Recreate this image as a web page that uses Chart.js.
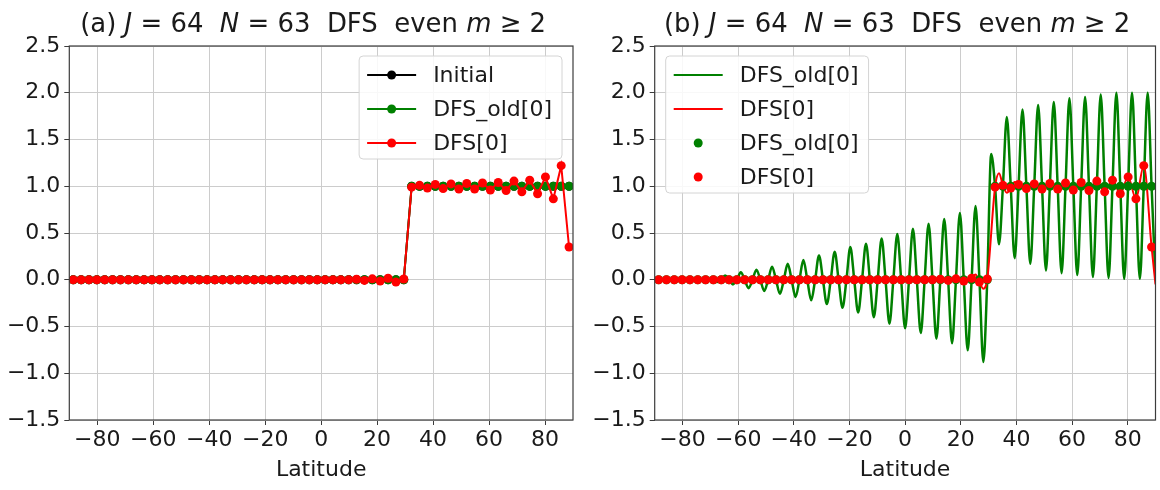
<!DOCTYPE html>
<html>
<head>
<meta charset="utf-8">
<script src="https://cdn.jsdelivr.net/npm/chart.js@4.4.1/dist/chart.umd.min.js"></script>
<style>
html, body { margin: 0; padding: 0; background: #fff; }
#wrap { position: relative; width: 1160px; height: 490px; }
.panel { position: absolute; top: 0; width: 580px; height: 490px; }
</style>
</head>
<body>
<div id="wrap">
  <div class="panel" style="left:0"><canvas id="chartA" width="580" height="490"></canvas></div>
  <div class="panel" style="left:580px"><canvas id="chartB" width="580" height="490"></canvas></div>
</div>
<script>
// grid latitudes, J = 64
var latitudes = [
  -88.59, -85.78, -82.97, -80.16, -77.34, -74.53, -71.72, -68.91,
  -66.09, -63.28, -60.47, -57.66, -54.84, -52.03, -49.22, -46.41,
  -43.59, -40.78, -37.97, -35.16, -32.34, -29.53, -26.72, -23.91,
  -21.09, -18.28, -15.47, -12.66, -9.84, -7.03, -4.22, -1.41,
  1.41, 4.22, 7.03, 9.84, 12.66, 15.47, 18.28, 21.09,
  23.91, 26.72, 29.53, 32.34, 35.16, 37.97, 40.78, 43.59,
  46.41, 49.22, 52.03, 54.84, 57.66, 60.47, 63.28, 66.09,
  68.91, 71.72, 74.53, 77.34, 80.16, 82.97, 85.78, 88.59
];
var initialField = [
  0, 0, 0, 0, 0, 0, 0, 0,
  0, 0, 0, 0, 0, 0, 0, 0,
  0, 0, 0, 0, 0, 0, 0, 0,
  0, 0, 0, 0, 0, 0, 0, 0,
  0, 0, 0, 0, 0, 0, 0, 0,
  0, 0, 0, 1, 1, 1, 1, 1,
  1, 1, 1, 1, 1, 1, 1, 1,
  1, 1, 1, 1, 1, 1, 1, 1
];
var dfsOld = [
  0, 0, 0, 0, 0, 0, 0, 0,
  0, 0, 0, 0, 0, 0, 0, 0,
  0, 0, 0, 0, 0, 0, 0, 0,
  0, 0, 0, 0, 0, 0, 0, 0,
  0, 0, 0, 0, 0, 0, 0, 0,
  0, 0, 0, 1, 1, 1, 1, 1,
  1, 1, 1, 1, 1, 1, 1, 1,
  1, 1, 1, 1, 1, 1, 1, 1
];
var dfsNew = [
  0, 0, 0, 0, 0, 0, 0, 0,
  0, 0, 0, 0, 0, 0, 0, 0,
  0, 0, 0, 0, 0, 0, 0, 0,
  0, 0, 0, 0, 0, 0, 0, 0,
  0, 0, 0, 0, 0.005, -0.007, 0.01, -0.014,
  0.016, -0.025, 0.008, 0.99, 1.01, 0.98, 1.02, 0.975,
  1.025, 0.97, 1.03, 0.97, 1.035, 0.96, 1.04, 0.955,
  1.055, 0.94, 1.065, 0.92, 1.10, 0.865, 1.22, 0.35
];

// DFS_old[0] between the grid points (b): peaks and troughs
var midLatitudes = [
  -87.19, -84.38, -81.56, -78.75, -75.94, -73.13, -70.31, -67.50,
  -64.69, -61.88, -59.06, -56.25, -53.44, -50.63, -47.81, -45.00,
  -42.19, -39.38, -36.56, -33.75, -30.94, -28.13, -25.31, -22.50,
  -19.69, -16.88, -14.06, -11.25, -8.44, -5.63, -2.81, 0.00,
  2.81, 5.63, 8.44, 11.25, 14.06, 16.88, 19.69, 22.50,
  25.31, 28.13, 30.94, 33.75, 36.56, 39.38, 42.19, 45.00,
  47.81, 50.63, 53.44, 56.25, 59.06, 61.88, 64.69, 67.50,
  70.31, 73.13, 75.94, 78.75, 81.56, 84.38, 87.19
];
var dfsOldMid = [
  0, 0, 0, 0, 0.003, -0.006, 0.012, -0.025,
  0.046, -0.05, 0.08, -0.09, 0.107, -0.12, 0.14, -0.15,
  0.17, -0.185, 0.21, -0.22, 0.26, -0.26, 0.30, -0.30,
  0.35, -0.35, 0.385, -0.40, 0.44, -0.47, 0.49, -0.52,
  0.545, -0.57, 0.60, -0.63, 0.65, -0.68, 0.715, -0.755,
  0.79, -0.88, 1.345, 0.38, 1.74, 0.23, 1.82, 0.17,
  1.87, 0.10, 1.90, 0.07, 1.94, 0.05, 1.955, 0.03,
  1.98, 0.02, 2.0, 0.01, 2.0, 0.01, 2.0
];
var edgeLatitudes = [-90, 90];
var dfsOldEdge = [0, 0];

// extra points of the DFS[0] curve in (b): wiggles near the jump and ends
var dfsNewExtraLat = [-90, 25.31, 28.13, 33.75, 36.56, 39.38, 90];
var dfsNewExtra = [0, 0.057, -0.096, 1.14, 0.93, 1.046, -0.05];

var xTicks = [-80, -60, -40, -20, 0, 20, 40, 60, 80];
var yTicks = [-1.5, -1.0, -0.5, 0.0, 0.5, 1.0, 1.5, 2.0, 2.5];

var FONT = 'DejaVu Sans';
var GREEN = '#008000';
var RED = '#ff0000';

function pts(xs, ys) {
    return xs.map(function (x, i) { return { x: x, y: ys[i] }; });
}
function joined() {
    var out = [];
    for (var i = 0; i < arguments.length; i += 2) out = out.concat(pts(arguments[i], arguments[i + 1]));
    return out.sort(function (a, b) { return a.x - b.x; });
}
function minus(s) { return String(s).replace('-', '\u2212'); }

// frame, title and matplotlib-like legend
var decor = {
    id: 'decor',
    afterDraw: function (chart, args, opts) {
        var ctx = chart.ctx, a = chart.chartArea;
        ctx.save();
        ctx.strokeStyle = '#3c3c3c';
        ctx.lineWidth = 1.2;
        ctx.strokeRect(a.left, a.top, a.right - a.left, a.bottom - a.top);

        // title, with italic symbols, slightly condensed like the original
        var size = 27, squeeze = 0.96;
        var total = 0;
        opts.title.forEach(function (seg) {
            ctx.font = (seg[1] ? 'italic ' : '') + size + 'px "' + FONT + '"';
            total += ctx.measureText(seg[0]).width;
        });
        var cx = (a.left + a.right) / 2 - 8;
        ctx.save();
        ctx.translate(cx - total * squeeze / 2, 32);
        ctx.scale(squeeze, 1);
        var tx = 0;
        ctx.fillStyle = '#1a1a1a';
        ctx.textBaseline = 'alphabetic';
        ctx.textAlign = 'left';
        opts.title.forEach(function (seg) {
            ctx.font = (seg[1] ? 'italic ' : '') + size + 'px "' + FONT + '"';
            ctx.fillText(seg[0], tx, 0);
            tx += ctx.measureText(seg[0]).width;
        });
        ctx.restore();

        // legend
        var items = opts.legend.items;
        ctx.font = '22px "' + FONT + '"';
        var textW = Math.max.apply(null, items.map(function (it) { return ctx.measureText(it.label).width; }));
        var w = 74 + textW + 10;
        var h = 19 + (items.length - 1) * 34 + 16;
        var bx = opts.legend.side === 'right' ? a.right - 11 - w : a.left + 11;
        var by = a.top + 10;
        ctx.beginPath();
        ctx.roundRect(bx, by, w, h, 4);
        ctx.fillStyle = 'rgba(255,255,255,0.85)';
        ctx.fill();
        ctx.strokeStyle = '#d4d4d4';
        ctx.lineWidth = 1;
        ctx.stroke();
        items.forEach(function (it, i) {
            var y = by + 19 + i * 34;
            if (it.line) {
                ctx.beginPath();
                ctx.moveTo(bx + 8, y);
                ctx.lineTo(bx + 57, y);
                ctx.strokeStyle = it.color;
                ctx.lineWidth = 2;
                ctx.stroke();
            }
            if (it.marker) {
                ctx.beginPath();
                ctx.arc(bx + 32.5, y, 4.5, 0, Math.PI * 2);
                ctx.fillStyle = it.color;
                ctx.fill();
            }
            ctx.fillStyle = '#1a1a1a';
            ctx.textBaseline = 'middle';
            ctx.fillText(it.label, bx + 74, y + 1);
        });
        ctx.restore();
    }
};

function scales(yWidth) {
    var tickFont = { family: FONT, size: 22 };
    return {
        x: {
            type: 'linear', min: -90, max: 90,
            afterBuildTicks: function (s) { s.ticks = xTicks.map(function (v) { return { value: v }; }); },
            afterFit: function (s) { s.height = 70; },
            border: { display: false },
            grid: { color: '#cccccc', lineWidth: 1, tickColor: '#3c3c3c', tickLength: 5 },
            ticks: { font: tickFont, color: '#1a1a1a', padding: 2, autoSkip: false, maxRotation: 0,
                     callback: function (v) { return minus(v); } },
            title: { display: true, text: 'Latitude', font: tickFont, color: '#1a1a1a',
                     padding: { top: 0, bottom: 7 } }
        },
        y: {
            min: -1.5, max: 2.5,
            afterBuildTicks: function (s) { s.ticks = yTicks.map(function (v) { return { value: v }; }); },
            afterFit: function (s) { s.width = yWidth; },
            border: { display: false },
            grid: { color: '#cccccc', lineWidth: 1, tickColor: '#3c3c3c', tickLength: 5 },
            ticks: { font: tickFont, color: '#1a1a1a', padding: 4,
                     callback: function (v) { return minus(v.toFixed(1)); } }
        }
    };
}

function lineSet(label, data, color, order, withDots) {
    return {
        label: label, data: data, order: order,
        borderColor: color, backgroundColor: color, borderWidth: 2,
        pointRadius: withDots ? 4.5 : 0, pointBackgroundColor: color, pointBorderColor: color,
        pointBorderWidth: 0, tension: 0
    };
}

var chartA = new Chart(document.getElementById('chartA').getContext('2d'), {
    type: 'line',
    data: {
        datasets: [
            lineSet('Initial', pts(latitudes, initialField), '#000000', 3, true),
            lineSet('DFS_old[0]', pts(latitudes, dfsOld), GREEN, 2, true),
            lineSet('DFS[0]', pts(latitudes, dfsNew), RED, 1, true)
        ]
    },
    options: {
        responsive: false, animation: false,
        layout: { padding: { top: 46, right: 7, left: 0, bottom: 0 } },
        scales: scales(69.3),
        plugins: {
            legend: { display: false }, tooltip: { enabled: false },
            decor: {
                title: [['(a) ', 0], ['J', 1], [' = 64  ', 0], ['N', 1], [' = 63  DFS  even ', 0], ['m', 1], [' \u2265 2', 0]],
                legend: { side: 'right', items: [
                    { label: 'Initial', color: '#000000', line: true, marker: true },
                    { label: 'DFS_old[0]', color: GREEN, line: true, marker: true },
                    { label: 'DFS[0]', color: RED, line: true, marker: true }
                ] }
            }
        }
    },
    plugins: [decor]
});

var oldLine = lineSet('DFS_old[0]', joined(latitudes, dfsOld, midLatitudes, dfsOldMid, edgeLatitudes, dfsOldEdge), GREEN, 4, false);
oldLine.cubicInterpolationMode = 'monotone';
oldLine.borderWidth = 2.5;
var newLine = lineSet('DFS[0]', joined(latitudes, dfsNew, dfsNewExtraLat, dfsNewExtra), RED, 3, false);
newLine.cubicInterpolationMode = 'monotone';
var oldDots = lineSet('DFS_old[0]', pts(latitudes, dfsOld), GREEN, 2, true);
oldDots.showLine = false;
var newDots = lineSet('DFS[0]', pts(latitudes, dfsNew), RED, 1, true);
newDots.showLine = false;

var chartB = new Chart(document.getElementById('chartB').getContext('2d'), {
    type: 'line',
    data: { datasets: [oldLine, newLine, oldDots, newDots] },
    options: {
        responsive: false, animation: false,
        layout: { padding: { top: 46, right: 1.3, left: 0, bottom: 0 } },
        scales: scales(74.7),
        plugins: {
            legend: { display: false }, tooltip: { enabled: false },
            decor: {
                title: [['(b) ', 0], ['J', 1], [' = 64  ', 0], ['N', 1], [' = 63  DFS  even ', 0], ['m', 1], [' \u2265 2', 0]],
                legend: { side: 'left', items: [
                    { label: 'DFS_old[0]', color: GREEN, line: true, marker: false },
                    { label: 'DFS[0]', color: RED, line: true, marker: false },
                    { label: 'DFS_old[0]', color: GREEN, line: false, marker: true },
                    { label: 'DFS[0]', color: RED, line: false, marker: true }
                ] }
            }
        }
    },
    plugins: [decor]
});
</script>
</body>
</html>
